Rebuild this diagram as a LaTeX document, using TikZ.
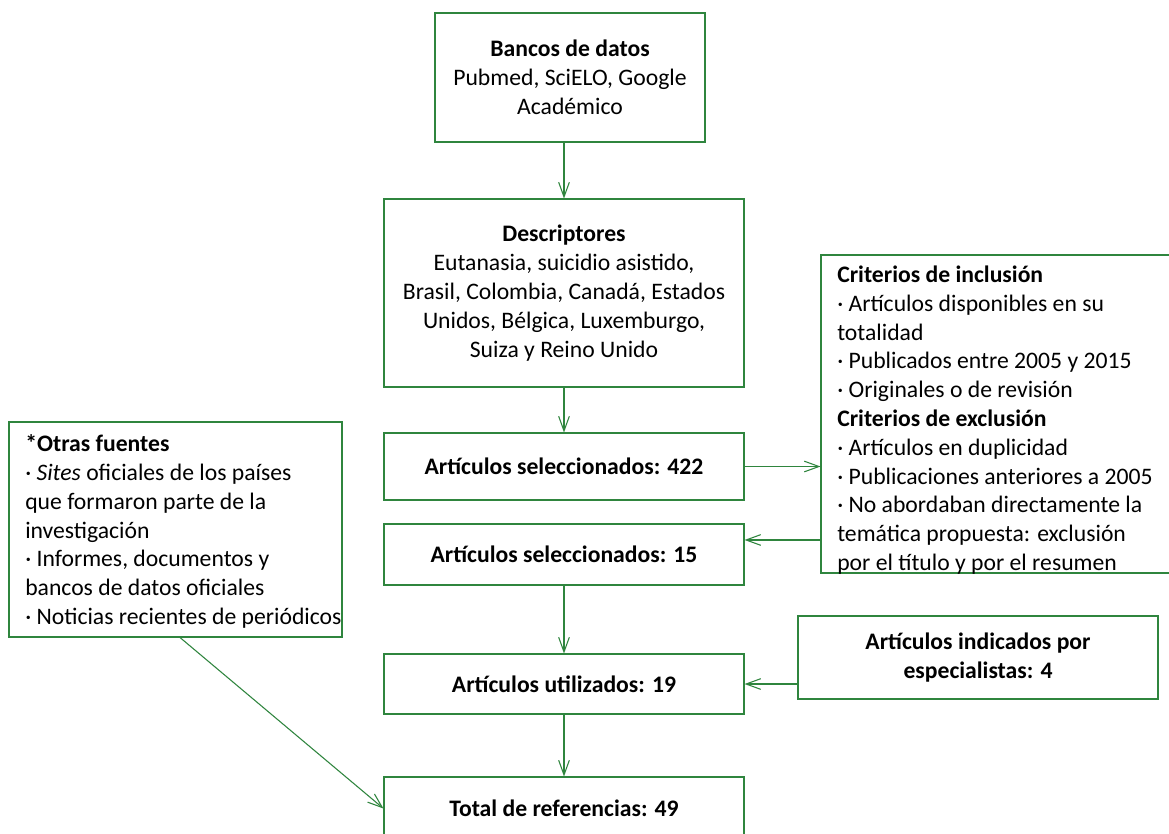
\documentclass[tikz,border=0pt]{standalone}
\usepackage{fontspec}
\setmainfont{Carlito}
\usetikzlibrary{arrows.meta}
\definecolor{lg}{RGB}{47,133,62}
\begin{document}
\begin{tikzpicture}[x=0.75pt,y=-0.75pt,
  every node/.style={font=\fontsize{17.75}{21.6}\selectfont, inner sep=0pt, text=black},
  box/.style={draw=lg, line width=0.8pt, rectangle, align=center},
  frame/.style={draw=lg, line width=0.8pt, rectangle},
  txt/.style={align=left, anchor=base west},
  arr/.style={draw=lg, line width=0.8pt, -{Straight Barb[length=11pt,width=8pt,line width=0.8pt]}},
  ]
\useasboundingbox (0,0) rectangle (1169,833);
\fill[white] (0,0) rectangle (1169,833);

\node[box, minimum width=202.5pt, minimum height=96.75pt] (b1) at (570,77.5)
  {\textbf{Bancos de datos}\\Pubmed, SciELO, Google\\Académico};
\node[box, minimum width=270pt, minimum height=141pt] (b2) at (564,293)
  {\textbf{Descriptores}\\Eutanasia, suicidio asistido,\\Brasil, Colombia, Canadá, Estados\\Unidos, Bélgica, Luxemburgo,\\Suiza y Reino Unido};
\node[box, minimum width=270pt, minimum height=50.25pt] (b3) at (564,466.5)
  {\textbf{Artículos seleccionados: 422}};
\node[box, minimum width=270pt, minimum height=45.75pt] (b4) at (564,554.5)
  {\textbf{Artículos seleccionados: 15}};
\node[box, minimum width=270pt, minimum height=45pt] (b5) at (564,684)
  {\textbf{Artículos utilizados: 19}};
\node[box, minimum width=270pt, minimum height=47.25pt] (b6) at (564,808.5)
  {\textbf{Total de referencias: 49}};
\node[box, minimum width=270pt, minimum height=62.25pt] (spec) at (978,657.5)
  {\textbf{Artículos indicados por}\\\textbf{especialistas: 4}};

\node[frame, minimum width=276.75pt, minimum height=238.5pt] (crit) at (1005.5,414) {};
\node[txt] (crittxt) at (837,570.5)
  {\textbf{Criterios de inclusión}\\
   · Artículos disponibles en su\\
   totalidad\\
   · Publicados entre 2005 y 2015\\
   · Originales o de revisión\\
   \textbf{Criterios de exclusión}\\
   · Artículos en duplicidad\\
   · Publicaciones anteriores a 2005\\
   · No abordaban directamente la\\
   temática propuesta: exclusión\\
   por el título y por el resumen};

\node[frame, minimum width=249.75pt, minimum height=161.25pt] (otras) at (175.5,529.5) {};
\node[txt] (otrastxt) at (25,624.5)
  {\textbf{*Otras fuentes}\\
   · \textit{Sites} oficiales de los países\\
   que formaron parte de la\\
   investigación\\
   · Informes, documentos y\\
   bancos de datos oficiales\\
   · Noticias recientes de periódicos};

\draw[arr] (b2.north |- b1.south) -- (b2.north);
\draw[arr] (b2.south) -- (b3.north);
\draw[arr] (b3.east) -- (b3.east -| crit.west);
\coordinate (b4in) at ([yshift=10.9pt]b4.east);
\draw[arr] (b4in -| crit.west) -- (b4in);
\draw[arr] (b4.south) -- (b5.north);
\draw[arr] (b5.east -| spec.west) -- (b5.east);
\draw[arr] (b5.south) -- (b6.north);
\draw[arr] ([xshift=3.4pt]otras.south) -- (b6.west);
\end{tikzpicture}
\end{document}
